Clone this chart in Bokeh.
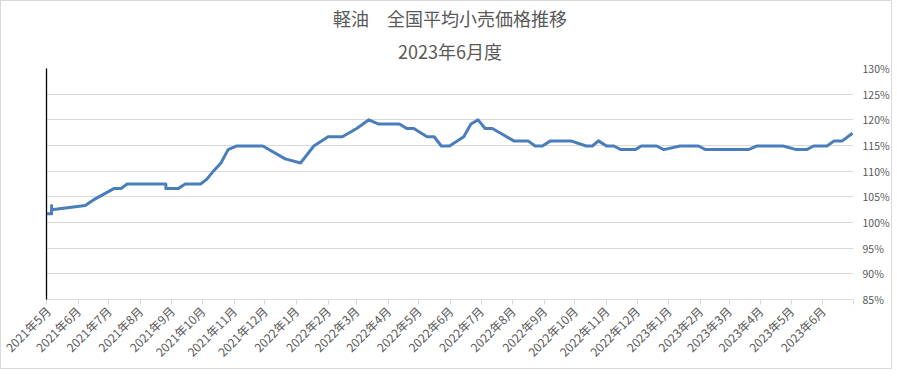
import pandas as pd
from bokeh.plotting import figure
from bokeh.models import Range1d, FixedTicker, LinearAxis, Title, PrintfTickFormatter
from bokeh.embed import file_html
from bokeh.resources import INLINE

# ---- data ----
dates = ["2021-05-01", "2021-05-06", "2021-05-06", "2021-05-06", "2021-06-08", "2021-06-16",
         "2021-07-06", "2021-07-13", "2021-07-19", "2021-08-26", "2021-08-26", "2021-09-07",
         "2021-09-14", "2021-09-29", "2021-10-05", "2021-10-12", "2021-10-19", "2021-10-26",
         "2021-11-03", "2021-11-29", "2021-12-21", "2022-01-05", "2022-01-18", "2022-02-01",
         "2022-02-15", "2022-03-01", "2022-03-13", "2022-03-22", "2022-04-12", "2022-04-19",
         "2022-04-26", "2022-05-09", "2022-05-16", "2022-05-23", "2022-05-31", "2022-06-14",
         "2022-06-21", "2022-06-28", "2022-07-05", "2022-07-12", "2022-07-21", "2022-08-02",
         "2022-08-16", "2022-08-23", "2022-08-30", "2022-09-07", "2022-09-27", "2022-10-12",
         "2022-10-18", "2022-10-24", "2022-11-01", "2022-11-08", "2022-11-15", "2022-11-29",
         "2022-12-05", "2022-12-20", "2022-12-27", "2023-01-12", "2023-01-30", "2023-02-06",
         "2023-03-20", "2023-03-28", "2023-04-23", "2023-05-06", "2023-05-16", "2023-05-23",
         "2023-06-05", "2023-06-12", "2023-06-20", "2023-06-30"]
values = [101.7, 101.7, 103.3, 102.5, 103.3, 104.4,
          106.6, 106.6, 107.5, 107.5, 106.6, 106.6,
          107.5, 107.5, 108.4, 110.1, 111.6, 114.2,
          114.9, 114.9, 112.4, 111.6, 114.9, 116.7,
          116.7, 118.3, 120.0, 119.2, 119.2, 118.3,
          118.3, 116.7, 116.7, 114.9, 114.9, 116.7,
          119.2, 120.0, 118.3, 118.3, 117.3, 115.9,
          115.9, 114.9, 114.9, 115.9, 115.9, 114.9,
          114.9, 115.9, 114.9, 114.9, 114.2, 114.2,
          114.9, 114.9, 114.2, 114.9, 114.9, 114.2,
          114.2, 114.9, 114.9, 114.2, 114.2, 114.9,
          114.9, 115.9, 115.9, 117.4]

tick_dates = ["2021-05-01", "2021-06-01", "2021-07-01", "2021-08-01", "2021-09-01", "2021-10-01",
              "2021-11-01", "2021-12-01", "2022-01-01", "2022-02-01", "2022-03-01", "2022-04-01",
              "2022-05-01", "2022-06-01", "2022-07-01", "2022-08-01", "2022-09-01", "2022-10-01",
              "2022-11-01", "2022-12-01", "2023-01-01", "2023-02-01", "2023-03-01", "2023-04-01",
              "2023-05-01", "2023-06-01", "2023-07-01"]
tick_labels = ["2021年5月", "2021年6月", "2021年7月", "2021年8月", "2021年9月", "2021年10月",
               "2021年11月", "2021年12月", "2022年1月", "2022年2月", "2022年3月", "2022年4月",
               "2022年5月", "2022年6月", "2022年7月", "2022年8月", "2022年9月", "2022年10月",
               "2022年11月", "2022年12月", "2023年1月", "2023年2月", "2023年3月", "2023年4月",
               "2023年5月", "2023年6月", ""]
y_ticks = [85, 90, 95, 100, 105, 110, 115, 120, 125, 130]

title1 = "軽油　全国平均小売価格推移"
title2 = "2023年6月度"

# ---- conversion to day offsets ----
origin = pd.Timestamp(tick_dates[0])
xs = [(pd.Timestamp(d) - origin).days for d in dates]
tx = [(pd.Timestamp(d) - origin).days for d in tick_dates]

FONT = "Noto Sans CJK JP"
GRAY = "#595959"
GRID = "#D9D9D9"

p = figure(width=892, height=369, output_backend="svg", toolbar_location=None,
           y_axis_location="right",
           x_range=Range1d(tx[0], tx[-1]), y_range=Range1d(y_ticks[0], y_ticks[-1]),
           min_border_left=45, min_border_right=40, min_border_top=67, min_border_bottom=71)
p.styles = {"border": "1px solid #D9D9D9"}
p.outline_line_color = None
p.background_fill_color = "white"
p.border_fill_color = "white"

# titles: p.title sits furthest out, the added one next to the frame
p.title.text = title1
p.title.align = "center"
p.title.text_font = FONT
p.title.text_font_size = "18px"
p.title.text_font_style = "normal"
p.title.text_color = GRAY
p.title.standoff = 0
p.title.offset = -3
t2 = Title(text=title2, align="center", text_font=FONT, text_font_size="18px",
           text_font_style="normal", text_color=GRAY, standoff=10, offset=-3,
           text_line_height=0.7)
p.add_layout(t2, "above")

# x axis
xa = p.xaxis[0]
xa.ticker = FixedTicker(ticks=tx)
xa.major_label_overrides = {t: l for t, l in zip(tx, tick_labels)}
xa.major_label_orientation = 0.785398
xa.major_label_text_font = FONT
xa.major_label_text_font_size = "12px"
xa.major_label_text_color = GRAY
xa.axis_line_color = GRID
xa.major_tick_line_color = GRID
xa.major_tick_out = 5
xa.major_tick_in = 0
xa.minor_tick_line_color = None
xa.major_label_standoff = 4

# right y axis
ya = p.yaxis[0]
ya.ticker = FixedTicker(ticks=y_ticks)
ya.formatter = PrintfTickFormatter(format="%d%%")
ya.major_label_text_font = FONT
ya.major_label_text_font_size = "10.5px"
ya.major_label_text_color = GRAY
ya.axis_line_color = None
ya.major_tick_line_color = None
ya.major_tick_out = 0
ya.major_tick_in = 0
ya.minor_tick_line_color = None
ya.major_label_standoff = 9

# left black axis line
la = LinearAxis(ticker=FixedTicker(ticks=[]), axis_line_color="black", axis_line_width=1.3,
                major_tick_line_color=None, minor_tick_line_color=None,
                major_tick_out=0, major_tick_in=0,
                major_label_text_font_size="0px")
p.add_layout(la, "left")

p.xgrid.grid_line_color = None
p.ygrid.grid_line_color = GRID
p.ygrid.grid_line_width = 1
p.ygrid.ticker = FixedTicker(ticks=y_ticks)

p.line(xs, values, line_width=3, line_color="#4A7EBB", line_join="round")

open("out.html", "w").write(file_html(p, INLINE))
